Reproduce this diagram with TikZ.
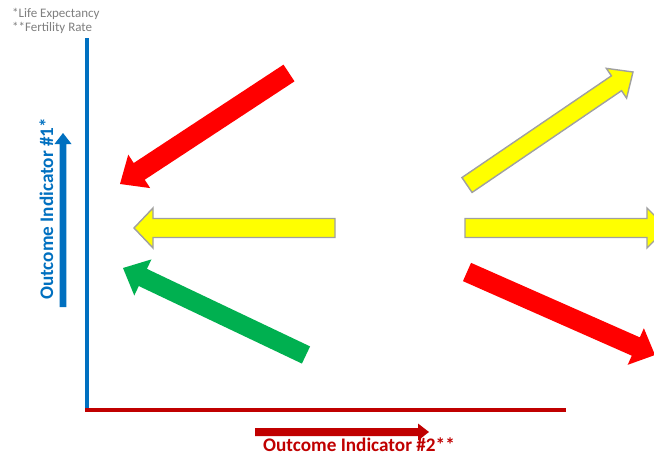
\documentclass[tikz,border=0pt]{standalone}
\usepackage{fontspec}
\setmainfont{Carlito}
\usetikzlibrary{calc}
\definecolor{axblue}{HTML}{0070C0}
\definecolor{axred}{HTML}{C00000}
\definecolor{arred}{HTML}{FF0000}
\definecolor{aryel}{HTML}{FFFF00}
\definecolor{argreen}{HTML}{00B050}
\definecolor{yedge}{HTML}{A0A0A0}
\definecolor{notegray}{HTML}{7F7F7F}
\tikzset{
  redarr/.style={fill=arred,draw=none},
  yelarr/.style={fill=aryel,draw=yedge,line width=1.4pt,line join=miter},
  grnarr/.style={fill=argreen,draw=none},
  bluearr/.style={fill=axblue,draw=none},
  darkredarr/.style={fill=axred,draw=none},
  axislabel/.style={font=\fontsize{19.2}{21}\selectfont\bfseries,inner sep=0pt},
  note/.style={font=\fontsize{13}{15}\selectfont,text=notegray,inner sep=0pt,anchor=base west},
}
% #1 style, #2 tail, #3 tip, #4 shaft half width, #5 head half width, #6 head length
\newcommand\blockarr[6]{%
  \coordinate (bT) at #2;
  \coordinate (bP) at #3;
  \coordinate (bB) at ($(bP)!#6!(bT)$);
  \path[#1] ($(bT)!#4!90:(bP)$) -- ($(bB)!#4!90:(bP)$) -- ($(bB)!#5!90:(bP)$) -- (bP)
     -- ($(bB)!#5!-90:(bP)$) -- ($(bB)!#4!-90:(bP)$) -- ($(bT)!#4!-90:(bP)$) -- cycle;}
\begin{document}
\begin{tikzpicture}[x=1pt,y=-1pt]
\clip (0,0) rectangle (654,455);
\useasboundingbox (0,0) rectangle (654,455);
\fill[white] (0,0) rectangle (654,455);
% notes
\node[note] (n1) at (12,17) {*Life Expectancy};
\node[note] (n2) at (12,31) {**Fertility Rate};
% axes
\coordinate (ytop) at (87,38);
\coordinate (org) at (87,410);
\coordinate (xend) at (566,410);
\draw[axblue,line width=4.5pt] (ytop) -- (87,412);
\draw[axred,line width=4pt] (85,410) -- (xend);
% axis label arrows
\blockarr{bluearr}{(63,307)}{(63,133)}{3.3pt}{8.5pt}{11pt}
\blockarr{darkredarr}{(255,432)}{(429,432)}{4pt}{8.5pt}{11pt}
\node[axislabel,text=axblue,rotate=90,anchor=base west] (ylab) at (53,300) {Outcome Indicator \#1*};
\node[axislabel,text=axred,anchor=base west] (xlab) at (263,451) {Outcome Indicator \#2**};
% left arrows
\blockarr{redarr}{(289,73)}{(120,184)}{10pt}{20pt}{23pt}
\blockarr{yelarr}{(335,228)}{(134,228)}{9.5pt}{20pt}{19pt}
\blockarr{grnarr}{(306,355)}{(123,268)}{9.5pt}{20pt}{22pt}
% right arrows
\blockarr{yelarr}{(467,185)}{(633,72)}{9pt}{18pt}{20pt}
\blockarr{yelarr}{(465,228)}{(667,228)}{9.5pt}{20pt}{20pt}
\blockarr{redarr}{(467,272)}{(655,355)}{10pt}{20pt}{21pt}
\end{tikzpicture}
\end{document}
